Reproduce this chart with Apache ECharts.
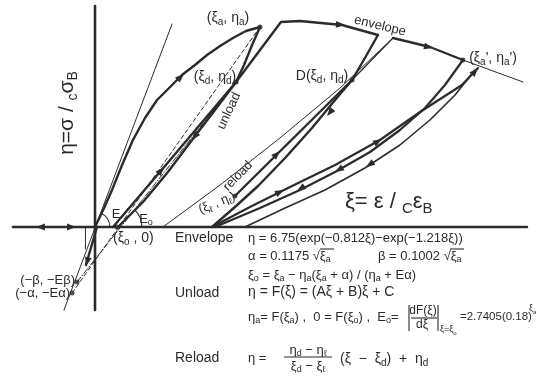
<!DOCTYPE html>
<html>
<head>
<meta charset="utf-8">
<script src="https://cdn.jsdelivr.net/npm/echarts@6/dist/echarts.min.js"></script>
<style>
  html, body { margin: 0; padding: 0; background: #fff; }
  #chart { width: 558px; height: 376px; }
</style>
</head>
<body>
<div id="chart"></div>
<script>
// Normalized plane: xi = strain / strain at peak, eta = stress / compressive strength
const strainAxis = [[-0.497, 0], [2.618, 0]];
const stressAxis = [[0, 1.105], [0, -0.415]];
const elasticLine = [[-0.188, -0.415], [0.467, 1.015]];
const envelopeRise = [[0, 0], [0.055, 0.095], [0.103, 0.185], [0.164, 0.31], [0.230, 0.435], [0.303, 0.545],
  [0.376, 0.635], [0.455, 0.70], [0.527, 0.76], [0.606, 0.81], [0.679, 0.86], [0.758, 0.905],
  [0.836, 0.945], [0.915, 0.98], [1.0, 1.0]];
const unloadFirst = [[1.0, 1.0], [0.952, 0.91], [0.903, 0.81], [0.855, 0.725], [0.727, 0.585],
  [0.588, 0.435], [0.442, 0.275], [0.291, 0.125], [0.139, 0]];
const reloadFirst = [[0.109, 0], [0.455, 0.335], [0.855, 0.725], [1.0, 0.885], [1.127, 1.025],
  [1.242, 1.03], [1.497, 1.01], [1.715, 0.96]];
const secantAlpha = [[-0.139, -0.33], [1.0, 1.0]];
const secantBeta = [[-0.109, -0.275], [0.855, 0.725]];
const unloadSecond = [[1.715, 0.96], [1.636, 0.845], [1.558, 0.735], [1.455, 0.635], [1.315, 0.495],
  [1.152, 0.345], [0.988, 0.205], [0.848, 0.10], [0.709, 0]];
const reloadSecond = [[0.848, 0.155], [1.558, 0.735]];
const reloadGuide = [[0.412, 0], [0.758, 0.21], [1.121, 0.445], [1.485, 0.695], [1.806, 0.945]];
const guideToEnvelope = [[1.558, 0.735], [1.806, 0.945]];
const envelopeSecond = [[1.806, 0.945], [2.03, 0.90], [2.23, 0.835]];
const envelopeTail = [[2.23, 0.835], [2.594, 0.725]];
const unloadThird = [[2.23, 0.835], [2.121, 0.71], [2.0, 0.595], [1.848, 0.485], [1.667, 0.375],
  [1.455, 0.275], [1.242, 0.185], [1.0, 0.095], [0.727, 0]];
const reloadThird = [[0.709, 0], [0.939, 0.10], [1.182, 0.20], [1.455, 0.31], [1.727, 0.435],
  [1.970, 0.575], [2.224, 0.71], [2.321, 0.795]];
const unloadOuter = [[2.303, 0.785], [2.182, 0.66], [2.03, 0.535], [1.848, 0.41], [1.636, 0.295],
  [1.394, 0.185], [1.152, 0.095], [0.909, 0]];
const compressionDrop = [[0.012, 0], [-0.055, -0.19]];
const compressionGuide = [[-0.058, 0], [-0.058, -0.11]];

// Characteristic points: peak, return points, reload start, residual strain, tension points
const keyPoints = [[1.0, 1.0], [0.855, 0.725], [1.558, 0.735], [2.23, 0.835], [0.848, 0.155],
  [0.133, 0], [-0.109, -0.275], [-0.139, -0.33]];

// Arrow heads along the loading path: [tailXi, tailEta, tipXi, tipEta]
const flowArrows = [
  [0.467, 0.71, 0.539, 0.765],
  [0.636, 0.487, 0.588, 0.435],
  [0.364, 0.2475, 0.418, 0.30],
  [1.424, 1.015, 1.515, 1.01],
  [1.455, 0.605, 1.406, 0.555],
  [1.061, 0.33, 1.121, 0.38],
  [1.970, 0.91, 2.048, 0.895],
  [2.273, 0.75, 2.321, 0.795],
  [1.073, 0.155, 1.145, 0.185],
  [1.667, 0.405, 1.739, 0.44],
  [1.515, 0.305, 1.455, 0.275],
  [1.291, 0.215, 1.224, 0.18],
  [1.697, 0.33, 1.642, 0.30],
  [-0.273, 0, -0.358, 0],
  [-0.2, 0, -0.115, 0],
  [-0.036, -0.14, -0.055, -0.195]
];

const INK = '#2b2b2b';
const FONT = '"Liberation Sans", Arial, sans-serif';
const ARC_RADII = [15, 24];

// Angle marks for the initial stiffness E and the unloading stiffness Eo
const angleArcs = [
  [0, 0, elasticLine[1][0], elasticLine[1][1]],
  [unloadFirst[8][0], unloadFirst[8][1], unloadFirst[7][0], unloadFirst[7][1]]
];

function path(data, width, dash) {
  return {
    type: 'line', data, symbol: 'none', silent: true, clip: false,
    lineStyle: { color: INK, width, type: dash || 'solid', cap: 'round', join: 'round' },
    z: 2
  };
}

function rich(size) {
  return {
    m: { fontSize: size, fontFamily: FONT, lineHeight: Math.round(size * 1.3), fill: INK },
    s: { fontSize: Math.round(size * 0.68), fontFamily: FONT, lineHeight: Math.round(size * 0.85),
         verticalAlign: 'bottom', fill: INK },
    p: { fontSize: Math.round(size * 0.68), fontFamily: FONT, lineHeight: Math.round(size * 0.85),
         verticalAlign: 'top', fill: INK }
  };
}

function label(x, y, text, size, opts) {
  opts = opts || {};
  return {
    type: 'text', x, y, rotation: (opts.rot || 0) * Math.PI / 180, z: 10, silent: true,
    style: {
      text, rich: rich(size), fontSize: size, fontFamily: FONT, fill: INK,
      align: opts.align || 'center', verticalAlign: 'middle'
    }
  };
}

function rule(x1, y1, x2, y2) {
  return { type: 'line', z: 10, silent: true, shape: { x1, y1, x2, y2 }, style: { stroke: INK, lineWidth: 1.1 } };
}

const chart = echarts.init(document.getElementById('chart'));
chart.setOption({
  backgroundColor: '#fff',
  animation: false,
  grid: { left: 0, right: 0, top: 0, bottom: 0 },
  xAxis: { type: 'value', min: -0.5758, max: 2.8061, show: false },
  yAxis: { type: 'value', min: -0.745, max: 1.135, show: false },
  series: [
    path(strainAxis, 2.6),
    path(stressAxis, 2.6),
    path(elasticLine, 1),
    path(secantAlpha, 1, [4, 3]),
    path(secantBeta, 1, [6, 2, 1, 2]),
    path(envelopeRise, 2.4),
    path(unloadFirst, 2.4),
    path(reloadFirst, 2.4),
    path(unloadSecond, 2.4),
    path(reloadSecond, 2.4),
    path(reloadGuide, 1),
    path(guideToEnvelope, 1.2),
    path(envelopeSecond, 2.4),
    path(envelopeTail, 1),
    path(unloadThird, 2.2),
    path(reloadThird, 2.2),
    path(unloadOuter, 1.6),
    path(compressionDrop, 2.4),
    path(compressionGuide, 1),
    {
      type: 'scatter', data: keyPoints, symbol: 'circle', symbolSize: 5, silent: true,
      itemStyle: { color: INK }, z: 4
    },
    {
      type: 'custom', data: flowArrows, silent: true, z: 5,
      encode: { x: [0, 2], y: [1, 3] },
      renderItem(params, api) {
        const a = api.coord([api.value(0), api.value(1)]);
        const b = api.coord([api.value(2), api.value(3)]);
        const dx = b[0] - a[0], dy = b[1] - a[1];
        const L = Math.hypot(dx, dy) || 1;
        const ux = dx / L, uy = dy / L;
        const len = 9, hw = 3.4;
        const bx = b[0] - ux * len, by = b[1] - uy * len;
        return {
          type: 'polygon',
          shape: { points: [[b[0], b[1]], [bx - uy * hw, by + ux * hw], [bx + uy * hw, by - ux * hw]] },
          style: { fill: INK }
        };
      }
    },
    {
      type: 'custom', data: angleArcs, silent: true, z: 5,
      encode: { x: [0, 2], y: [1, 3] },
      renderItem(params, api) {
        const c = api.coord([api.value(0), api.value(1)]);
        const t = api.coord([api.value(2), api.value(3)]);
        const ang = Math.atan2(t[1] - c[1], t[0] - c[0]);
        return {
          type: 'arc',
          shape: { cx: c[0], cy: c[1], r: ARC_RADII[params.dataIndex], startAngle: ang, endAngle: 0, clockwise: true },
          style: { stroke: INK, fill: null, lineWidth: 1.1 }
        };
      }
    }
  ],
  graphic: [
    label(67, 113, '{m|η=σ / }{s|c}{m|σ}{s|B}', 21, { rot: 90 }),
    label(345, 202, '{m|ξ= ε / }{s|C}{m|ε}{s|B}', 22, { align: 'left' }),
    label(228, 18, '{m|(ξ}{s|a}{m|, η}{s|a}{m|)}', 14),
    label(215, 77, '{m|(ξ}{s|d}{m|, η}{s|d}{m|)}', 14),
    label(322, 76, '{m|D(ξ}{s|d}{m|, η}{s|d}{m|)}', 14),
    label(493, 58, "{m|(ξ}{s|a}{m|', η}{s|a}{m|')}", 14),
    label(229, 111, '{m|unload}', 13, { rot: 65 }),
    label(238, 176, '{m|reload}', 13, { rot: 46 }),
    label(217, 203, '{m|(ξ}{s|ℓ}{m| , η}{s|ℓ}{m|)}', 13, { rot: 22 }),
    label(380, 26, '{m|envelope}', 13, { rot: -13.5 }),
    label(116, 214, '{m|E}', 13),
    label(146, 219, '{m|E}{s|o}', 13),
    label(113, 238, '{m|(ξ}{s|o}{m| , 0)}', 14, { align: 'left' }),
    label(75, 280, '{m|(−β, −Eβ)}', 13, { align: 'right' }),
    label(70, 293, '{m|(−α, −Eα)}', 13, { align: 'right' }),
    label(175, 238, '{m|Envelope}', 14, { align: 'left' }),
    label(175, 293, '{m|Unload}', 14, { align: 'left' }),
    label(175, 358, '{m|Reload}', 14, { align: 'left' }),
    label(248, 238, '{m|η = 6.75(exp(−0.812ξ)−exp(−1.218ξ))}', 13, { align: 'left' }),
    label(248, 256, '{m|α = 0.1175 √ξ}{s|a}', 13, { align: 'left' }),
    rule(320, 249, 334, 249),
    label(378, 256, '{m|β = 0.1002 √ξ}{s|a}', 13, { align: 'left' }),
    rule(450, 249, 464, 249),
    label(248, 275, '{m|ξ}{s|o}{m| = ξ}{s|a}{m| − η}{s|a}{m|(ξ}{s|a}{m| + α) / (η}{s|a}{m| + Eα)}', 13, { align: 'left' }),
    label(248, 292, '{m|η = F(ξ) = (Aξ + B)ξ + C}', 14, { align: 'left' }),
    label(248, 317, '{m|η}{s|a}{m|= F(ξ}{s|a}{m|) ,  0 = F(ξ}{s|o}{m|) ,  E}{s|o}{m|=}', 13, { align: 'left' }),
    label(423, 311, '{m|dF(ξ)}', 12),
    rule(411, 318, 437, 318),
    label(422, 325, '{m|dξ}', 12),
    rule(409, 305, 409, 331),
    rule(438, 305, 438, 331),
    label(440, 330, '{m|ξ=ξ}{s|o}', 9, { align: 'left' }),
    label(460, 317, '{m|=2.7405(0.18)}', 11.5, { align: 'left' }),
    label(529, 309, '{m|ξ}{s|a}', 9, { align: 'left' }),
    label(248, 358, '{m|η =}', 13, { align: 'left' }),
    label(308, 350, '{m|η}{s|d}{m| − η}{s|ℓ}', 13),
    rule(284, 357, 332, 357),
    label(308, 366, '{m|ξ}{s|d}{m| − ξ}{s|ℓ}', 13),
    label(340, 359, '{m|(ξ  −  ξ}{s|d}{m|)  +  η}{s|d}', 14, { align: 'left' })
  ]
});
</script>
</body>
</html>
